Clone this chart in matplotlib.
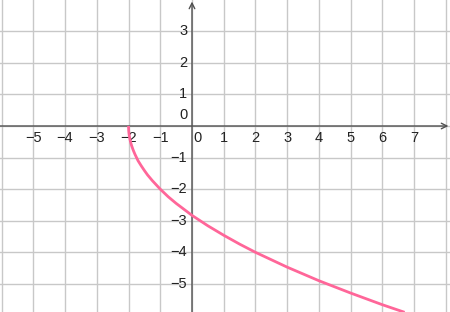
import matplotlib
matplotlib.use("Agg")
import matplotlib.pyplot as plt

# points
xs = [-2.0, -1.995, -1.99, -1.98, -1.96, -1.93, -1.9, -1.85, -1.8, -1.7, -1.6, -1.5, -1.4, -1.25, -1.0, -0.75, -0.5, 0.0,
      0.5, 1.0, 1.5, 2.0, 3.0, 4.0, 5.0, 6.0, 6.7]
ys = [0.0, -0.14, -0.2, -0.28, -0.4, -0.53, -0.63, -0.77, -0.89, -1.1, -1.26, -1.41, -1.55, -1.73, -2.0, -2.24, -2.45, -2.83,
      -3.16, -3.46, -3.74, -4.0, -4.47, -4.9, -5.29, -5.66, -5.9]

xticks = [-5, -4, -3, -2, -1, 1, 2, 3, 4, 5, 6, 7]
yticks = [3, 2, 1, -1, -2, -3, -4, -5]

xmin, xmax = -6.05, 8.13
ymin, ymax = -5.89, 3.99

plt.rcParams['font.family'] = ['Liberation Sans', 'DejaVu Sans']

fig = plt.figure(figsize=(4.5, 3.12), dpi=100)
ax = fig.add_axes([0, 0, 1, 1])
ax.set_xlim(xmin, xmax)
ax.set_ylim(ymin, ymax)
ax.axis('off')

# grid
for gx in range(-6, 9):
    ax.axvline(gx, color='#c8c8c8', lw=1, zorder=0)
for gy in range(-5, 4):
    ax.axhline(gy, color='#c8c8c8', lw=1, zorder=0)

# axes with arrows
ax.annotate('', xy=(8.08, 0), xytext=(xmin, 0),
            arrowprops=dict(arrowstyle='->', lw=1, color='#505050', shrinkA=0, shrinkB=0))
ax.annotate('', xy=(0, 3.94), xytext=(0, ymin),
            arrowprops=dict(arrowstyle='->', lw=1, color='#505050', shrinkA=0, shrinkB=0))

# tick labels
def lab(t):
    return '\u2212%d' % -t if t < 0 else str(t)

for t in xticks:
    ax.text(t, -0.17, lab(t), ha='center', va='top', fontsize=10.5, color='#222222')
for t in yticks:
    ax.text(-0.15, t, lab(t), ha='right', va='center', fontsize=10.5, color='#222222')
ax.text(0.18, -0.17, '0', ha='center', va='top', fontsize=10.5, color='#222222')
ax.text(-0.15, 0.12, '0', ha='right', va='bottom', fontsize=10.5, color='#222222')

ax.plot(xs, ys, color='#ff6699', lw=2, solid_capstyle='butt', zorder=3)

fig.savefig('out.png', dpi=100)
